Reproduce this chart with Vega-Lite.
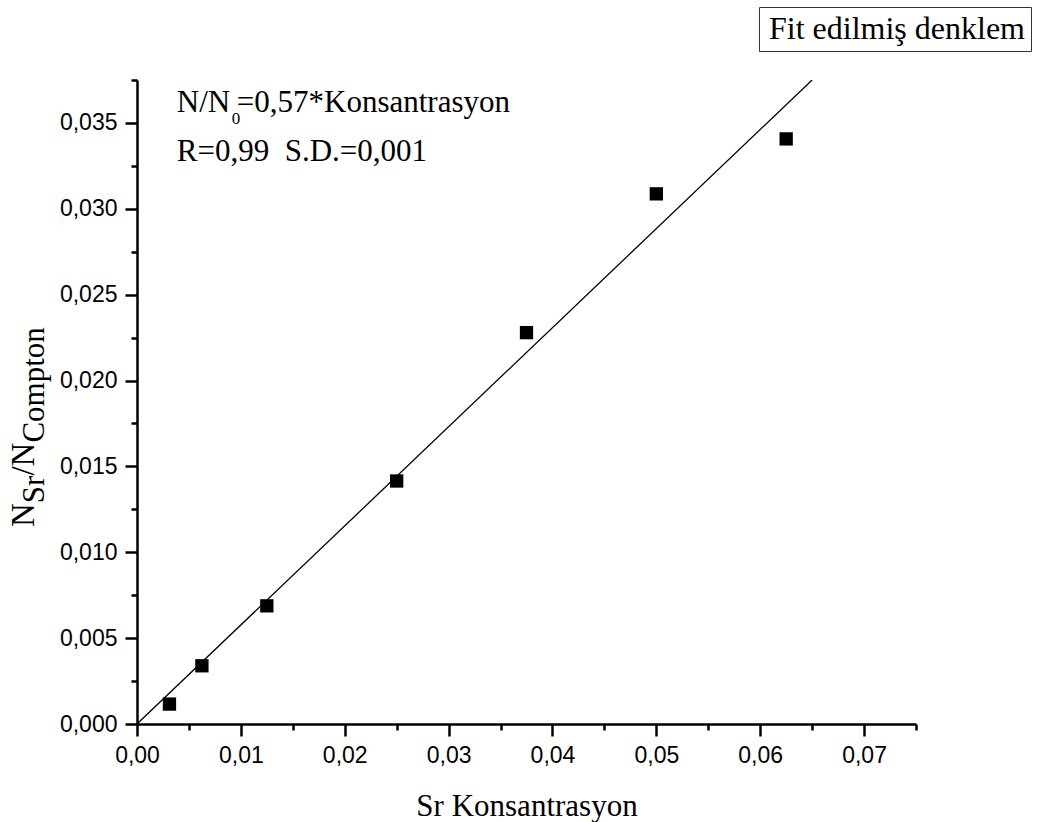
{
  "$schema": "https://vega.github.io/schema/vega-lite/v6.json",
  "width": 779,
  "height": 644,
  "autosize": {"type": "none"},
  "padding": {"left": 137, "top": 80, "right": 122, "bottom": 98},
  "background": "white",
  "config": {
    "view": {"stroke": null},
    "axis": {"grid": false, "labelFlush": false, "labelOverlap": false, "domainColor": "black", "tickColor": "black", "labelColor": "black", "titleColor": "black", "titleFontWeight": "normal"}
  },
  "datasets": {
    "points": [
      {"conc": 0.003125, "ratio": 0.00116},
      {"conc": 0.00625, "ratio": 0.00339},
      {"conc": 0.0125, "ratio": 0.00688},
      {"conc": 0.025, "ratio": 0.01415},
      {"conc": 0.0375, "ratio": 0.02279},
      {"conc": 0.05, "ratio": 0.03087},
      {"conc": 0.0625, "ratio": 0.03407}
    ],
    "fit": [
      {"conc": 0, "ratio": 0, "series": "Fit edilmiş denklem"},
      {"conc": 0.065, "ratio": 0.0375, "series": "Fit edilmiş denklem"}
    ]
  },
  "layer": [
    {
      "data": {"name": "fit"},
      "mark": {"type": "line", "strokeWidth": 1.3, "clip": true},
      "encoding": {
        "x": {"field": "conc", "type": "quantitative", "scale": {"domain": [0, 0.075], "nice": false, "zero": false},
          "axis": {"orient": "bottom", "values": [0.005, 0.015, 0.025, 0.035, 0.045, 0.055, 0.065, 0.075], "labels": false, "domain": false, "tickSize": 6, "tickWidth": 2.5, "title": null}},
        "y": {"field": "ratio", "type": "quantitative", "scale": {"domain": [0, 0.0375], "nice": false, "zero": false},
          "axis": {"orient": "left", "values": [0.0025, 0.0075, 0.0125, 0.0175, 0.0225, 0.0275, 0.0325, 0.0375], "labels": false, "domain": false, "tickSize": 6, "tickWidth": 2.5, "title": null}},
        "color": {"field": "series", "type": "nominal", "scale": {"range": ["black"]},
          "legend": {"orient": "none", "legendX": 622, "legendY": -73, "title": null, "strokeColor": "#333333", "padding": 6, "symbolSize": 0, "symbolOpacity": 0, "symbolStrokeWidth": 0, "labelOffset": -28, "labelFont": "Liberation Serif", "labelFontSize": 32, "labelColor": "black", "labelLimit": 400, "fillColor": "white"}}
      }
    },
    {
      "data": {"name": "points"},
      "mark": {"type": "square", "size": 177, "color": "black", "opacity": 1, "filled": true},
      "encoding": {
        "x": {"field": "conc", "type": "quantitative",
          "axis": {"orient": "bottom", "values": [0, 0.01, 0.02, 0.03, 0.04, 0.05, 0.06, 0.07], "labelExpr": "replace(format(datum.value, '.2f'), '.', ',')", "labelFont": "Liberation Sans", "labelFontSize": 23, "labelPadding": 8, "tickSize": 12, "tickWidth": 2.5, "domainWidth": 2.5,
            "title": "Sr Konsantrasyon", "titleFont": "Liberation Serif", "titleFontSize": 31, "titleBaseline": "alphabetic", "titleAlign": "center", "titleX": 389.5, "titleY": 91}},
        "y": {"field": "ratio", "type": "quantitative",
          "axis": {"orient": "left", "values": [0, 0.005, 0.01, 0.015, 0.02, 0.025, 0.03, 0.035], "labelExpr": "replace(format(datum.value, '.3f'), '.', ',')", "labelFont": "Liberation Sans", "labelFontSize": 23, "labelPadding": 8, "tickSize": 12, "tickWidth": 2.5, "domainWidth": 2.5, "title": null}}
      }
    },
    {
      "data": {"name": "points"},
      "mark": {"type": "point", "opacity": 0},
      "encoding": {
        "x": {"field": "conc", "type": "quantitative", "axis": null},
        "y": {"field": "ratio", "type": "quantitative",
          "axis": {"orient": "left", "labels": false, "ticks": false, "domain": false, "title": "N", "titleFont": "Liberation Serif", "titleFontSize": 33, "titleAngle": 270, "titleAlign": "left", "titleBaseline": "alphabetic", "titleX": -104, "titleY": 446.5}}
      }
    },
    {
      "data": {"name": "points"},
      "mark": {"type": "point", "opacity": 0},
      "encoding": {
        "x": {"field": "conc", "type": "quantitative", "axis": null},
        "y": {"field": "ratio", "type": "quantitative",
          "axis": {"orient": "left", "labels": false, "ticks": false, "domain": false, "title": "Sr", "titleFont": "Liberation Serif", "titleFontSize": 31, "titleAngle": 270, "titleAlign": "left", "titleBaseline": "alphabetic", "titleX": -94, "titleY": 422.7}}
      }
    },
    {
      "data": {"name": "points"},
      "mark": {"type": "point", "opacity": 0},
      "encoding": {
        "x": {"field": "conc", "type": "quantitative", "axis": null},
        "y": {"field": "ratio", "type": "quantitative",
          "axis": {"orient": "left", "labels": false, "ticks": false, "domain": false, "title": "/N", "titleFont": "Liberation Serif", "titleFontSize": 33, "titleAngle": 270, "titleAlign": "left", "titleBaseline": "alphabetic", "titleX": -104, "titleY": 395.1}}
      }
    },
    {
      "data": {"name": "points"},
      "mark": {"type": "point", "opacity": 0},
      "encoding": {
        "x": {"field": "conc", "type": "quantitative", "axis": null},
        "y": {"field": "ratio", "type": "quantitative",
          "axis": {"orient": "left", "labels": false, "ticks": false, "domain": false, "title": "Compton", "titleFont": "Liberation Serif", "titleFontSize": 31, "titleAngle": 270, "titleAlign": "left", "titleBaseline": "alphabetic", "titleX": -94, "titleY": 362.1}}
      }
    },
    {
      "data": {"values": [{}]},
      "mark": {"type": "text", "text": "N/N", "font": "Liberation Serif", "fontSize": 31, "align": "left", "baseline": "alphabetic", "color": "black"},
      "encoding": {
        "x": {"datum": 0.00383, "type": "quantitative", "axis": null},
        "y": {"datum": 0.03562, "type": "quantitative", "axis": null}
      }
    },
    {
      "data": {"values": [{}]},
      "mark": {"type": "text", "text": "0", "font": "Liberation Serif", "fontSize": 17, "align": "left", "baseline": "alphabetic", "color": "black", "dx": 55, "dy": 11.5},
      "encoding": {
        "x": {"datum": 0.00383, "type": "quantitative", "axis": null},
        "y": {"datum": 0.03562, "type": "quantitative", "axis": null}
      }
    },
    {
      "data": {"values": [{}]},
      "mark": {"type": "text", "text": "=0,57*Konsantrasyon", "font": "Liberation Serif", "fontSize": 31, "align": "left", "baseline": "alphabetic", "color": "black", "dx": 60},
      "encoding": {
        "x": {"datum": 0.00383, "type": "quantitative", "axis": null},
        "y": {"datum": 0.03562, "type": "quantitative", "axis": null}
      }
    },
    {
      "data": {"values": [{}]},
      "mark": {"type": "text", "text": "R=0,99\u00a0\u00a0S.D.=0,001", "font": "Liberation Serif", "fontSize": 31, "align": "left", "baseline": "alphabetic", "color": "black"},
      "encoding": {
        "x": {"datum": 0.00383, "type": "quantitative", "axis": null},
        "y": {"datum": 0.03281, "type": "quantitative", "axis": null}
      }
    }
  ],
  "resolve": {"axis": {"x": "independent", "y": "independent"}}
}
